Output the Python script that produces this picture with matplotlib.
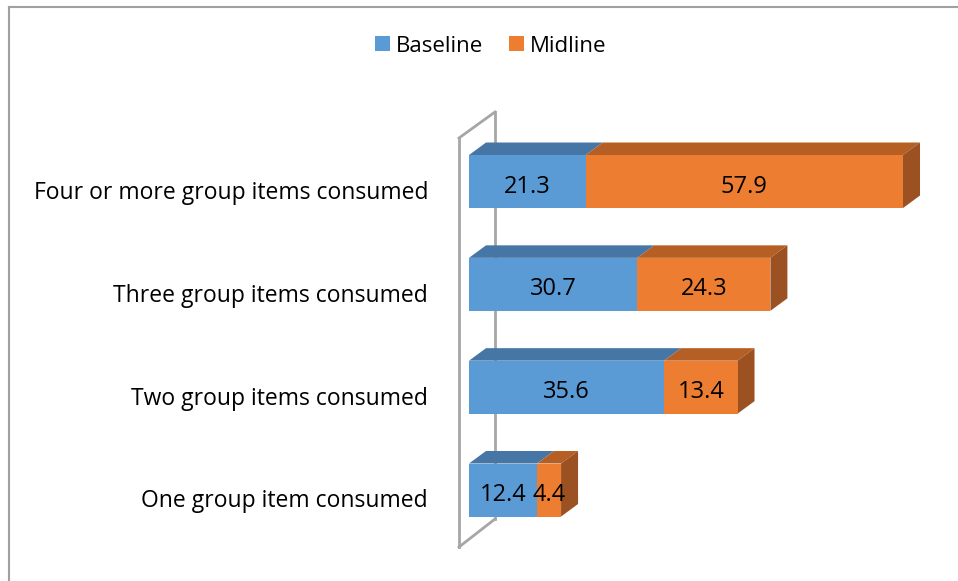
import matplotlib
matplotlib.use("Agg")
import matplotlib.pyplot as plt
from matplotlib.patches import Polygon, Patch
from matplotlib.lines import Line2D
from matplotlib.transforms import ScaledTranslation

# ---- data ----
categories = [
    "One group item consumed",
    "Two group items consumed",
    "Three group items consumed",
    "Four or more group items consumed",
]
baseline = [12.4, 35.6, 30.7, 21.3]
midline = [4.4, 13.4, 24.3, 57.9]
series_names = ["Baseline", "Midline"]

# ---- style ----
FONT = ["Open Sans", "DejaVu Sans"]
plt.rcParams["font.family"] = FONT
front = ["#5B9BD5", "#ED7D31"]
top = ["#4676A5", "#B55F24"]
side = ["#3F6A95", "#9B5121"]
wall_color = "#A6A6A6"

W, H, DPI = 958, 581, 100
fig = plt.figure(figsize=(W / DPI, H / DPI), dpi=DPI)

# plot area layout (pixels)
left_px = 469
px_per_x = 5.48
x_max = 85
y0_px = 490          # vertical position of first category centre
px_per_y = 102.83
bottom_px = y0_px + 0.5 * px_per_y
top_px = y0_px - 3.5 * px_per_y
ax = fig.add_axes([left_px / W, 1 - bottom_px / H,
                   x_max * px_per_x / W, (bottom_px - top_px) / H])
ax.set_xlim(0, x_max)
ax.set_ylim(-0.5, 3.5)
for s in ax.spines.values():
    s.set_visible(False)
ax.set_xticks([])


def px2x(p):
    return p / px_per_x


def px2y(p):
    return p / px_per_y


depth_x = px2x(17)
depth_y = px2y(12.5)
bar_h = px2y(53)

# side wall outline of the 3-D plot area
fx, bx = px2x(-10), px2x(26)
f_top, f_bot = px2y(y0_px - 138), px2y(y0_px - 547)
b_top, b_bot = px2y(y0_px - 112), px2y(y0_px - 519)
wall = [([fx, fx], [f_bot, f_top]), ([bx, bx], [b_bot, b_top]),
        ([fx, bx], [f_top, b_top]), ([fx, bx], [f_bot, b_bot])]
for xs, ys in wall:
    ax.add_line(Line2D(xs, ys, color=wall_color, lw=2, zorder=0,
                       clip_on=False, solid_capstyle="projecting"))

ypos = list(range(len(categories)))
series = [baseline, midline]
lefts = [0.0] * len(categories)
for si, vals in enumerate(series):
    ax.barh(ypos, vals, left=lefts, height=bar_h, color=front[si],
            zorder=3, linewidth=0)
    for i, v in enumerate(vals):
        x0, x1 = lefts[i], lefts[i] + v
        yt, yb = ypos[i] + bar_h / 2, ypos[i] - bar_h / 2
        ax.add_patch(Polygon([(x0, yt), (x1, yt), (x1 + depth_x, yt + depth_y),
                              (x0 + depth_x, yt + depth_y)], closed=True,
                             facecolor=top[si], edgecolor="none", zorder=2,
                             clip_on=False))
        if si == len(series) - 1:
            ax.add_patch(Polygon([(x1, yb), (x1, yt), (x1 + depth_x, yt + depth_y),
                                  (x1 + depth_x, yb + depth_y)], closed=True,
                                 facecolor=side[si], edgecolor="none", zorder=2,
                                 clip_on=False))
        ax.text((x0 + x1) / 2, ypos[i] - px2y(2), f"{v}", ha="center",
                va="center_baseline", fontsize=17, color="black", zorder=5)
    lefts = [l + v for l, v in zip(lefts, vals)]

# category labels
ax.set_yticks(ypos)
ax.set_yticklabels(categories, fontsize=16.5)
ax.tick_params(axis="y", length=0, pad=29.5)
shift = ScaledTranslation(0, -6 / 72, fig.dpi_scale_trans)
for lab in ax.get_yticklabels():
    lab.set_transform(lab.get_transform() + shift)

# legend
handles = [Patch(facecolor=front[0]), Patch(facecolor=front[1])]
fig.legend(handles, series_names, loc="center", bbox_to_anchor=(491 / W, 1 - 46 / H),
           ncol=2, frameon=False, fontsize=16, handlelength=0.65,
           handleheight=0.65, handletextpad=0.3, columnspacing=1.15)

# chart border
fig.add_artist(Line2D([9 / W, 1], [1 - 6.5 / H, 1 - 6.5 / H], color="#A0A0A0", lw=1.5))
fig.add_artist(Line2D([9 / W, 9 / W], [0, 1 - 6.5 / H], color="#A0A0A0", lw=1.5))

fig.savefig("out.png", dpi=DPI, facecolor="white")
